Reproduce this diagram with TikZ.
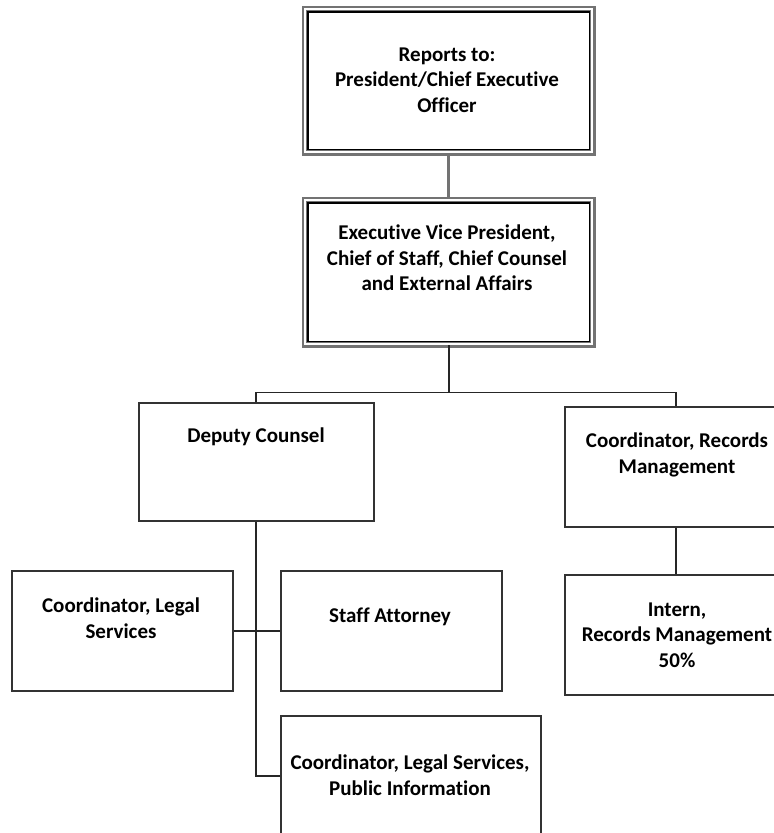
\documentclass[tikz,border=0pt]{standalone}
\usepackage{fontspec}
\setmainfont{Carlito}[Ligatures={NoCommon}]
\begin{document}
\begin{tikzpicture}[x=1pt,y=-1pt,
  box/.style={draw=black!80, line width=1.5pt, fill=white, rectangle, inner sep=0pt, anchor=north west},
  dbox/.style={draw=black!55, line width=2.4pt, fill=white, rectangle, inner sep=0pt, anchor=north west,
     double=white, double distance=2pt},
  txt/.style={align=center, font=\fontsize{21}{25.5}\selectfont\bfseries, inner sep=0pt, text=black},
  conn/.style={draw=black!85, line width=1.8pt},
  gconn/.style={draw=black!55, line width=2.6pt}]
\useasboundingbox (0,0) rectangle (774,833);
\clip (0,0) rectangle (774,833);
% boxes
\node[dbox, minimum width=287pt, minimum height=143pt] (top) at (304,8) {};
\draw[black, line width=1.3pt] ([shift={(4,4)}]top.north west) rectangle ([shift={(-4,-4)}]top.south east);
\node[dbox, minimum width=287pt, minimum height=144pt] (evp) at (304,199) {};
\draw[black, line width=1.3pt] ([shift={(4,4)}]evp.north west) rectangle ([shift={(-4,-4)}]evp.south east);
\node[box, minimum width=235pt, minimum height=118pt] (dc) at (138,402) {};
\node[box, minimum width=222pt, minimum height=120pt] (crm) at (564,406) {};
\node[box, minimum width=222pt, minimum height=120pt] (intern) at (564,574) {};
\node[box, minimum width=221pt, minimum height=120pt] (cls) at (11,570) {};
\node[box, minimum width=221pt, minimum height=120pt] (sa) at (280,570) {};
\node[box, minimum width=260pt, minimum height=120pt] (clp) at (280,715) {};
% texts
\node[txt] (topt) at (447,80) {Reports to:\\President/Chief Executive\\Officer};
\node[txt] (evpt) at (447,258) {Executive Vice President,\\Chief of Staff, Chief Counsel\\and External Affairs};
\node[txt] (dct) at (256,437) {Deputy Counsel};
\node[txt] (crmt) at (677,455) {Coordinator, Records\\Management};
\node[txt] (interntt) at (677,635) {Intern,\\Records Management\\50\%};
\node[txt] (clst) at (121,618) {Coordinator, Legal\\Services};
\node[txt] (sat) at (390,617) {Staff Attorney};
\node[txt] (clpt) at (410,775) {Coordinator, Legal Services,\\Public Information};
% connectors
\coordinate (bus) at ([yshift=-47pt]evp.south);
\draw[gconn] (top.south) -- (evp.north);
\draw[conn] (evp.south) -- (bus);
\draw[conn] (dc.north) -- (dc.north |- bus) -- (crm.north |- bus) -- (crm.north);
\draw[conn] (crm.south) -- (intern.north);
\draw[conn] (dc.south) -- (dc.south |- clp.west) -- (clp.west);
\draw[conn] (cls.east) -- (sa.west);
\end{tikzpicture}
\end{document}
